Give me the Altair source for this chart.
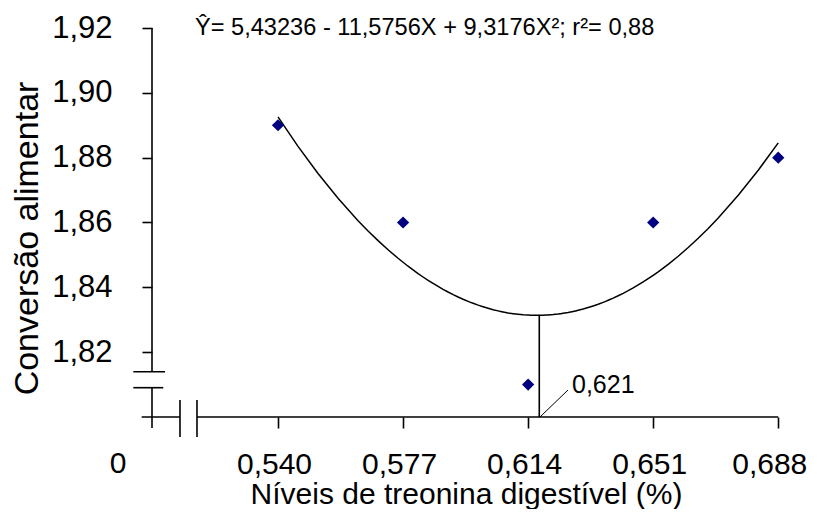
import altair as alt
import pandas as pd

# ---- data ----
threonine = [0.540, 0.577, 0.614, 0.651, 0.688]
feed_conversion = [1.89, 1.86, 1.81, 1.86, 1.88]
x_ticks = [0.540, 0.577, 0.614, 0.651, 0.688]
y_ticks = [1.82, 1.84, 1.86, 1.88, 1.90, 1.92]
x_domain = [0.50272, 0.69207]
y_domain = [1.80, 1.92]

equation = "Ŷ= 5,43236 - 11,5756X + 9,3176X²; r²= 0,88"
equation_x = [0.51544]
equation_y = [1.9200]
optimum_label = "0,621"
optimum_x = 0.6173
optimum_y = 1.8315
label_x = [0.62698]
label_y = [1.80997]
zero_x = [0.49266]
zero_y = [1.7855]

# axis lines with break marks (data units)
seg_x = [0.50272, 0.50272, 0.49719, 0.49719, 0.49967, 0.51603, 0.51100, 0.51603, optimum_x]
seg_x2 = [0.50272, 0.50272, 0.50657, 0.50606, 0.51100, 0.688, 0.51100, 0.51603, optimum_x]
seg_y = [1.92, 1.80904, 1.81398, 1.80904, 1.80, 1.80, 1.80525, 1.80525, optimum_y]
seg_y2 = [1.81398, 1.7966, 1.81398, 1.80904, 1.80, 1.80, 1.79383, 1.79383, 1.80]
leader_x = [0.61751]
leader_x2 = [0.62580]
leader_y = [1.80]
leader_y2 = [1.80833]

FONT = "Liberation Sans"

points = pd.DataFrame({"x": threonine, "y": feed_conversion})
segs = pd.DataFrame({"x": seg_x, "x2": seg_x2, "y": seg_y, "y2": seg_y2})
leader = pd.DataFrame({"x": leader_x, "x2": leader_x2, "y": leader_y, "y2": leader_y2})
eq_df = pd.DataFrame({"x": equation_x, "y": equation_y, "t": [equation]})
lab_df = pd.DataFrame({"x": label_x, "y": label_y, "t": [optimum_label]})
zero_df = pd.DataFrame({"x": zero_x, "y": zero_y, "t": ["0"]})

x_axis = alt.Axis(
    values=x_ticks,
    labelExpr="replace(format(datum.value, '.3f'), '.', ',')",
    domain=False, grid=False, ticks=True, tickSize=11, tickColor="black", tickWidth=1.6,
    labelFont=FONT, labelFontSize=30, labelColor="black", labelPadding=36,
    labelBaseline="middle", labelOffset={"expr": "datum.value > 0.68 ? -9 : -4"},
    labelFlush=False, labelOverlap=False,
    title="Níveis de treonina digestível (%)", titleFont=FONT, titleFontSize=30,
    titleFontWeight="normal", titleColor="black", titleX=314, titleY=86,
    titleAlign="center", titleBaseline="alphabetic", titleAnchor="start",
)
y_axis = alt.Axis(
    values=y_ticks,
    labelExpr="replace(format(datum.value, '.2f'), '.', ',')",
    domain=False, grid=False, ticks=True, tickSize=10, tickColor="black", tickWidth=1.6,
    labelFont=FONT, labelFontSize=31, labelColor="black", labelPadding=30,
    labelFlush=False, labelOverlap=False,
    title="Conversão alimentar", titleFont=FONT, titleFontSize=34,
    titleFontWeight="normal", titleColor="black", titleX=-125, titleY=210,
    titleAngle=270, titleAlign="center", titleBaseline="middle", titleAnchor="start",
)

def X(field="x"):
    return alt.X(field, type="quantitative", scale=alt.Scale(domain=x_domain, zero=False, nice=False), axis=x_axis)

def Y(field="y"):
    return alt.Y(field, type="quantitative", scale=alt.Scale(domain=y_domain, zero=False, nice=False), axis=y_axis)

pts = alt.Chart(points).mark_point(shape="diamond", filled=True, size=150, color="#000080", opacity=1).encode(x=X(), y=Y())

curve = alt.Chart(points).transform_regression(
    "x", "y", method="poly", order=2, extent=[0.540, 0.688]
).mark_line(color="black", strokeWidth=1.5).encode(x=X(), y=Y())

axes = alt.Chart(segs).mark_rule(color="black", strokeWidth=1.6).encode(
    x=X(), x2="x2", y=Y(), y2="y2"
)
lead = alt.Chart(leader).mark_rule(color="black", strokeWidth=1).encode(
    x=X(), x2="x2", y=Y(), y2="y2"
)
eq = alt.Chart(eq_df).mark_text(font=FONT, fontSize=23.6, align="left", baseline="middle", color="black").encode(
    x=X(), y=Y(), text="t"
)
lab = alt.Chart(lab_df).mark_text(font=FONT, fontSize=25, align="left", baseline="middle", color="black").encode(
    x=X(), y=Y(), text="t"
)
zero = alt.Chart(zero_df).mark_text(font=FONT, fontSize=30, align="center", baseline="middle", color="black").encode(
    x=X(), y=Y(), text="t"
)

chart = alt.layer(axes, lead, curve, pts, eq, lab, zero).properties(
    width=640, height=389,
    autosize=alt.AutoSizeParams(type="none"),
    padding={"left": 144, "top": 20, "right": 17, "bottom": 92},
    background="white",
).configure_view(stroke=None)

chart.save("out.html", embed_options={"renderer": "svg", "actions": False})
